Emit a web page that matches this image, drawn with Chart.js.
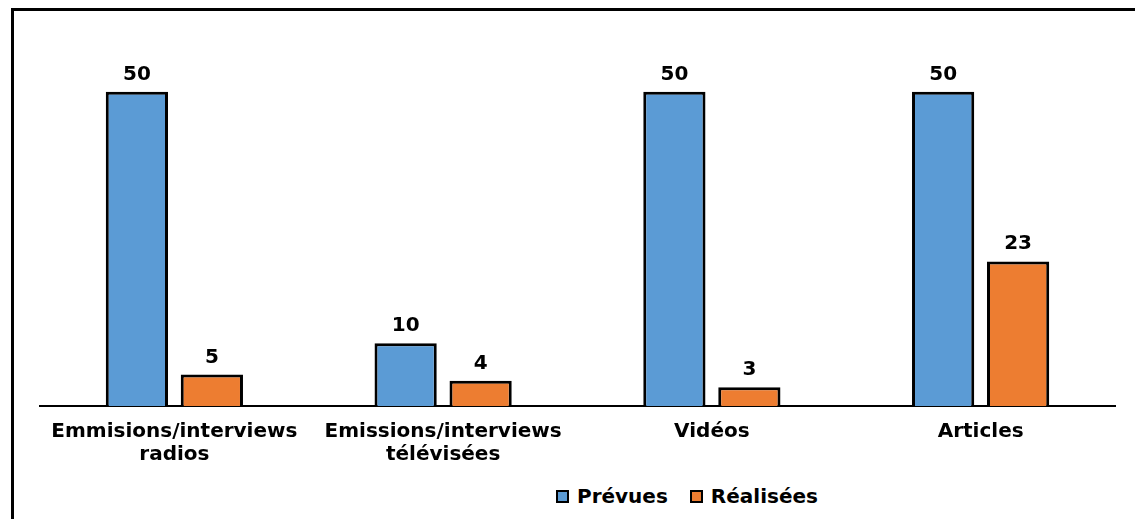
<!DOCTYPE html>
<html>
<head>
<meta charset="utf-8">
<script src="https://cdn.jsdelivr.net/npm/chart.js@4.4.0/dist/chart.umd.min.js"></script>
<style>
  html, body { margin:0; padding:0; background:#fff; width:1135px; height:519px; overflow:hidden; }
  #frame { position:absolute; left:11px; top:8px; width:1200px; height:600px;
           border-left:3px solid #000; border-top:3px solid #000; box-sizing:border-box; }
  #wrap { position:absolute; left:0; top:0; width:1135px; height:484px; }
  #legend { position:absolute; top:484px; left:556px; display:flex; align-items:center;
            font-family:"DejaVu Sans", sans-serif; font-weight:bold; font-size:20px; color:#000; }
  .item { display:flex; align-items:center; margin-right:22px; }
  .box { width:13px; height:13px; border:2px solid #000; box-sizing:border-box; margin-right:8px; }
</style>
</head>
<body>
<div id="frame"></div>
<div id="wrap"><canvas id="chart"></canvas></div>
<div id="legend"></div>
<script>
// ================================
// data
// ================================
const categories = [
  ["Emmisions/interviews", "radios"],
  ["Emissions/interviews", "télévisées"],
  "Vidéos",
  "Articles"
];
const seriesNames = ["Prévues", "Réalisées"];
const prevues   = [50, 10, 50, 50];
const realisees = [5, 4, 3, 23];
const colors = ["#5B9BD5", "#ED7D31"];

const FONT = "DejaVu Sans";

// value labels above each bar
const valueLabels = {
  id: "valueLabels",
  afterDatasetsDraw(chart) {
    const ctx = chart.ctx;
    ctx.save();
    ctx.font = "bold 20px '" + FONT + "'";
    ctx.fillStyle = "#000";
    ctx.textAlign = "center";
    ctx.textBaseline = "alphabetic";
    chart.data.datasets.forEach((ds, i) => {
      chart.getDatasetMeta(i).data.forEach((bar, j) => {
        ctx.fillText(ds.data[j], bar.x, bar.y - 12);
      });
    });
    ctx.restore();
  }
};

new Chart(document.getElementById("chart"), {
  type: "bar",
  data: {
    labels: categories,
    datasets: [
      { label: seriesNames[0], data: prevues, backgroundColor: colors[0] },
      { label: seriesNames[1], data: realisees, backgroundColor: colors[1] }
    ]
  },
  options: {
    responsive: true,
    maintainAspectRatio: false,
    animation: false,
    layout: { padding: { left: 40, right: 20, top: 29, bottom: 4 } },
    datasets: {
      bar: {
        borderColor: "#000",
        borderWidth: 3,
        categoryPercentage: 0.558,
        barPercentage: 0.83
      }
    },
    plugins: {
      legend: { display: false },
      tooltip: { enabled: false }
    },
    scales: {
      x: {
        grid: { display: false, drawTicks: false },
        border: { color: "#000", width: 2 },
        ticks: {
          color: "#000",
          padding: 14,
          maxRotation: 0,
          font: { family: FONT, size: 20, weight: "bold", lineHeight: 1.15 }
        }
      },
      y: {
        display: false,
        min: 0,
        max: 60
      }
    }
  },
  plugins: [valueLabels]
});

// legend
const legend = document.getElementById("legend");
seriesNames.forEach((name, i) => {
  const item = document.createElement("div");
  item.className = "item";
  const box = document.createElement("div");
  box.className = "box";
  box.style.background = colors[i];
  const txt = document.createElement("span");
  txt.textContent = name;
  item.appendChild(box);
  item.appendChild(txt);
  legend.appendChild(item);
});
</script>
</body>
</html>
